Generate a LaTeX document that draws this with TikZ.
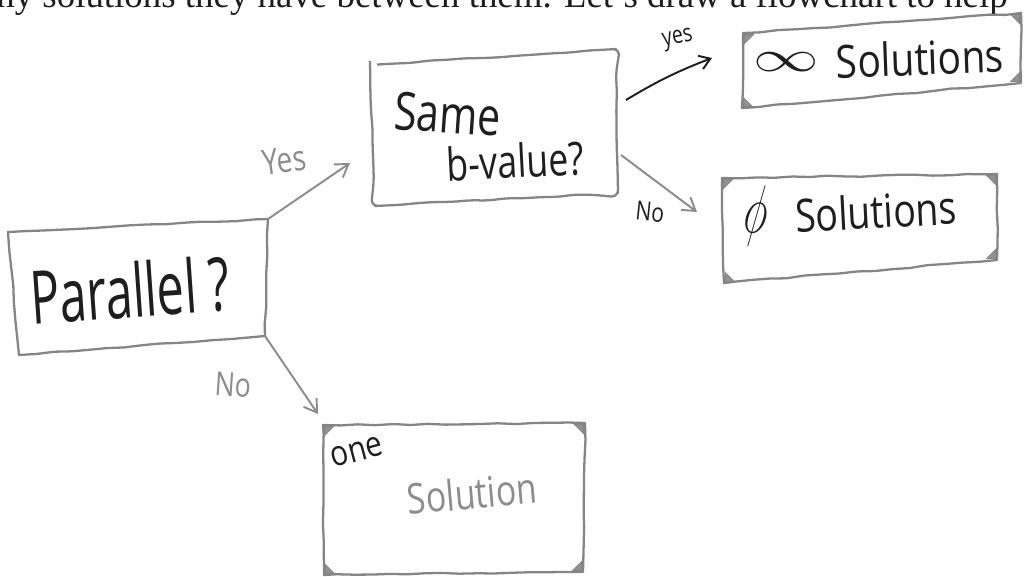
\documentclass[tikz,border=0pt]{standalone}
\usepackage{fontspec}
\setmainfont{Liberation Serif}
\newfontfamily\hand{Open Sans}
\usetikzlibrary{decorations.pathmorphing,arrows.meta,calc}
\definecolor{boxgray}{HTML}{858585}
\definecolor{ink}{HTML}{1E1E1E}
\definecolor{pencil}{HTML}{8C8C8C}
\newcommand{\hw}[3]{{\hand\fontsize{#1}{#1}\selectfont\scalebox{#2}[1]{#3}}}
\begin{document}
\begin{tikzpicture}[x=0.02cm,y=-0.02cm,
  sketch/.style={draw=boxgray, line width=1.3pt, line join=round,
    decorate, decoration={random steps, segment length=10pt, amplitude=0.45pt}},
  tri/.style={fill=boxgray!90, draw=boxgray, line width=0.4pt},
  garrow/.style={draw=pencil, line width=1.1pt, -{Straight Barb[length=7pt,width=9pt]}},
  karrow/.style={draw=ink, line width=1.1pt, -{Straight Barb[length=6pt,width=8pt]}},
  label/.style={inner sep=0pt},
]
\pgfmathsetseed{11}
\useasboundingbox (0,0) rectangle (1024,576);
\fill[white] (0,0) rectangle (1024,576);
\clip (0,0) rectangle (1024,576);

% running text above the chart
\node[anchor=base west, inner sep=0pt, font=\fontsize{21}{21}\selectfont, text=ink]
  (intro) at (-4,7) {ny solutions they have between them. Let's draw a flowchart to help};

% ---- box corners ----
\coordinate (par-nw) at (8,232);   \coordinate (par-ne) at (268,219);
\coordinate (par-se) at (265,336); \coordinate (par-sw) at (19,355);
\coordinate (sam-nw) at (370,65);  \coordinate (sam-ne) at (616,49);
\coordinate (sam-se) at (618,193); \coordinate (sam-sw) at (375,206);
\coordinate (inf-nw) at (743,33);  \coordinate (inf-ne) at (1021,13);
\coordinate (inf-se) at (1021,83); \coordinate (inf-sw) at (742,108);
\coordinate (emp-nw) at (722,178); \coordinate (emp-ne) at (997,174);
\coordinate (emp-se) at (997,260); \coordinate (emp-sw) at (724,283);
\coordinate (one-nw) at (323,425); \coordinate (one-ne) at (585,423);
\coordinate (one-se) at (583,572); \coordinate (one-sw) at (324,575);

% ---- boxes ----
\draw[sketch] (par-nw) -- (par-ne) -- (par-se) -- (par-sw) -- cycle;
\draw[sketch, rounded corners=4pt] (sam-nw) -- (sam-ne) -- (sam-se) -- (sam-sw) -- cycle;
\draw[sketch] (inf-nw) -- (inf-ne) -- (inf-se) -- (inf-sw) -- cycle;
\draw[sketch] (emp-nw) -- (emp-ne) -- (emp-se) -- (emp-sw) -- cycle;
\draw[sketch] (one-nw) -- (one-ne) -- (one-se) -- (one-sw) -- cycle;

% ---- corner marks in the answer boxes ----
\foreach \c/\dx/\dy in {inf-nw/1/1, inf-ne/-1/1, inf-se/-1/-1, inf-sw/1/-1,
                        emp-nw/1/1, emp-ne/-1/1, emp-se/-1/-1, emp-sw/1/-1,
                        one-nw/1/1, one-ne/-1/1, one-se/-1/-1, one-sw/1/-1}{
  \fill[tri] ($(\c)+(\dx*1.5,\dy*1.5)$) -- ++(\dx*9,0) -- ++(-\dx*9,\dy*9) -- cycle;
}

% ---- texts ----
\node[label, text=ink, rotate=4] (par) at (130,290) {\hw{42}{0.66}{Parallel ?}};
\node[label, text=ink, rotate=-4] (same) at (448,114) {\hw{30}{0.78}{Same}};
\node[label, text=ink, rotate=3] (bval) at (515,161) {\hw{26}{0.78}{b-value?}};
\node[label, text=ink] (infs) at (786,62) {\scalebox{1.5}[1]{\fontsize{34}{34}\selectfont$\infty$}};
\node[label, text=ink, rotate=2] (infsol) at (920,58) {\hw{26}{0.85}{Solutions}};
\node[label, text=ink, rotate=-8] (empty) at (756,216) {\scalebox{0.9}[1.6]{\fontsize{30}{30}\selectfont$\phi$}};
\node[label, text=ink, rotate=3] (empsol) at (876,211) {\hw{26}{0.82}{Solutions}};
\node[label, text=ink, rotate=15] (one) at (357,452) {\hw{20}{0.85}{one}};
\node[label, text=pencil, rotate=5] (onesol) at (472,493) {\hw{24}{0.8}{Solution}};

% ---- connectors ----
\coordinate (yes1-tip) at (350,163);
\coordinate (no1-tip) at (318,414);
\coordinate (yes2-start) at (626,100);
\coordinate (yes2-tip) at (712,58);
\coordinate (no2-start) at (621,155);
\coordinate (no2-tip) at (697,212);
\draw[garrow] (par-ne) -- (yes1-tip);
\draw[garrow] (par-se) -- (no1-tip);
\draw[karrow] (yes2-start) to[bend left=5] (yes2-tip);
\draw[garrow] (no2-start) -- (no2-tip);

% ---- connector labels ----
\node[label, text=pencil, rotate=8] (lyes1) at (284,160) {\hw{20}{0.8}{Yes}};
\node[label, text=pencil, rotate=-4] (lno1) at (233,385) {\hw{19}{0.8}{No}};
\node[label, text=ink, rotate=12] (lyes2) at (678,40) {\hw{14}{0.8}{yes}};
\node[label, text=ink, rotate=-6] (lno2) at (650,212) {\hw{15}{0.8}{No}};
\end{tikzpicture}
\end{document}
